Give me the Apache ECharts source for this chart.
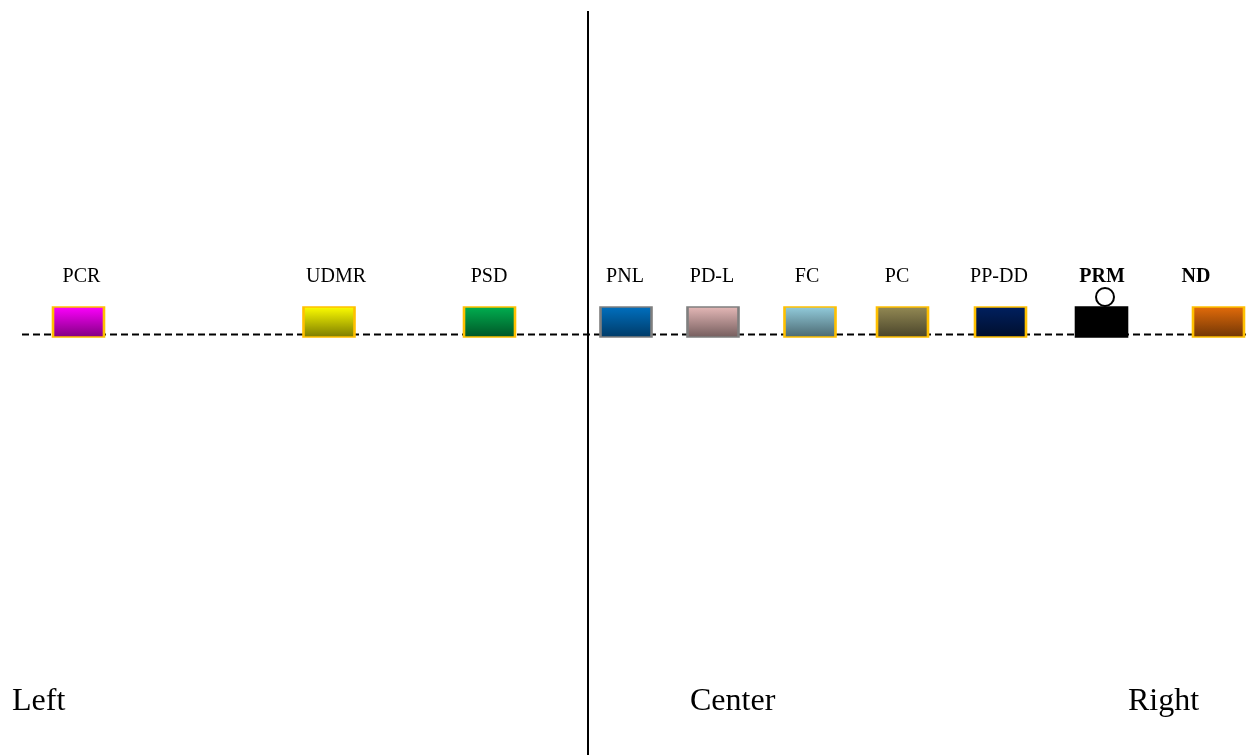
<!DOCTYPE html>
<html>
<head>
<meta charset="utf-8">
<script src="https://cdn.jsdelivr.net/npm/echarts@6/dist/echarts.min.js"></script>
<style>
html,body{margin:0;padding:0;background:#fff;}
#chart{width:1246px;height:755px;}
</style>
</head>
<body>
<div id="chart"></div>
<script>
// Categories along the line
var categories = ['PCR', 'UDMR', 'PSD', 'PNL', 'PD-L', 'FC', 'PC', 'PP-DD', 'PRM', 'ND'];
// Position of each box along the horizontal scale
var boxPositions = [78.5, 329, 489.5, 626, 713, 810, 902.5, 1000.5, 1101.5, 1218.5];
// Position of each label along the horizontal scale
var labelPositions = [81.5, 336, 489, 625, 712, 807, 897, 999, 1102, 1196];
// Bold labels
var boldLabels = [false, false, false, false, false, false, false, false, true, true];
// Gradient colours (top, bottom) for each box
var topColors = ['#ff00ff', '#ffff00', '#00b050', '#0070c0', '#e6b9b8', '#93cddd', '#948a54', '#002060', '#000000', '#e46c0a'];
var bottomColors = ['#7f007f', '#7a7a00', '#005426', '#003a66', '#735c5c', '#4a676f', '#48432a', '#000e2c', '#000000', '#6f3505'];
var borderColors = ['#ffc000', '#ffc000', '#ffc000', '#7f7f7f', '#7f7f7f', '#ffc000', '#ffc000', '#ffc000', '#000000', '#ffc000'];
// Region labels along the bottom
var regionNames = ['Left', 'Center', 'Right'];
var regionPositions = [12, 690, 1128];

// Layout levels on the vertical scale
var lineLevel = 334.5;
var boxLevel = 322;
var labelLevel = 277;
var regionLevel = 701.5;
var dividerPos = 588;
var circlePos = [1105, 297];

var chart = echarts.init(document.getElementById('chart'));

var boxData = categories.map(function (c, i) {
  return {
    name: c,
    value: [boxPositions[i], boxLevel],
    itemStyle: {
      color: new echarts.graphic.LinearGradient(0, 0, 0, 1, [
        {offset: 0, color: topColors[i]},
        {offset: 1, color: bottomColors[i]}
      ]),
      borderColor: borderColors[i],
      borderWidth: 2,
      opacity: 1
    }
  };
});

var labelData = categories.map(function (c, i) {
  return {
    name: c,
    value: [labelPositions[i], labelLevel],
    label: {fontWeight: boldLabels[i] ? 'bold' : 'normal'}
  };
});

var regionData = regionNames.map(function (r, i) {
  return {name: r, value: [regionPositions[i], regionLevel]};
});

chart.setOption({
  animation: false,
  backgroundColor: '#ffffff',
  grid: {left: 0, right: 0, top: 0, bottom: 0},
  xAxis: {type: 'value', min: 0, max: 1246, show: false},
  yAxis: {type: 'value', min: 0, max: 755, inverse: true, show: false},
  series: [
    {
      type: 'line',
      data: [[22, lineLevel], [1246, lineLevel]],
      symbol: 'none',
      lineStyle: {color: '#000', width: 2, type: [7, 4], opacity: 1},
      z: 1,
      silent: true
    },
    {
      type: 'line',
      data: [[dividerPos, 11], [dividerPos, 755]],
      symbol: 'none',
      lineStyle: {color: '#000', width: 2, opacity: 1},
      z: 1,
      silent: true
    },
    {
      type: 'scatter',
      symbol: 'rect',
      symbolSize: [51, 30],
      data: boxData,
      itemStyle: {opacity: 1},
      z: 3
    },
    {
      type: 'scatter',
      symbol: 'circle',
      symbolSize: 18,
      data: [circlePos],
      itemStyle: {color: '#fff', borderColor: '#000', borderWidth: 2, opacity: 1},
      z: 4
    },
    {
      type: 'scatter',
      symbolSize: 0,
      data: labelData,
      itemStyle: {opacity: 1},
      label: {
        show: true,
        position: 'inside',
        formatter: '{b}',
        fontFamily: 'Liberation Serif',
        fontSize: 20,
        color: '#000000',
        opacity: 1,
        align: 'center',
        verticalAlign: 'middle'
      },
      z: 5
    },
    {
      type: 'scatter',
      symbolSize: 0,
      data: regionData,
      itemStyle: {opacity: 1},
      label: {
        show: true,
        position: 'inside',
        formatter: '{b}',
        fontFamily: 'Liberation Serif',
        fontSize: 32,
        color: '#000000',
        opacity: 1,
        align: 'left',
        verticalAlign: 'middle'
      },
      z: 5
    }
  ]
});
</script>
</body>
</html>
